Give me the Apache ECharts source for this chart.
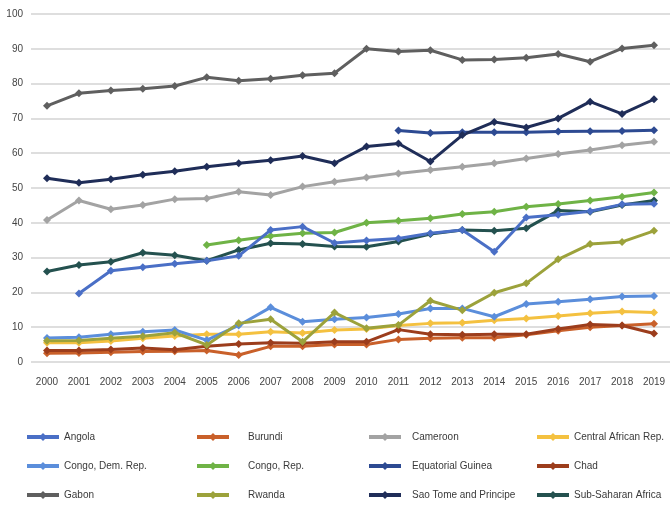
<!DOCTYPE html>
<html lang="en">
<head>
    <meta charset="UTF-8">
    <title>Chart</title>
    <script src="https://cdn.jsdelivr.net/npm/echarts@6/dist/echarts.min.js"></script>
    <style>
        html, body { margin: 0; padding: 0; background: #fff; }
    </style>
</head>
<body>
<div id="main" style="width: 670px;height: 506px"></div>
<script>
    let years = ['2000','2001','2002','2003','2004','2005','2006','2007','2008','2009',
        '2010','2011','2012','2013','2014','2015','2016','2017','2018','2019']
    let yTicks = [0, 10, 20, 30, 40, 50, 60, 70, 80, 90, 100]

    let angola = [null, 19.7, 26.2, 27.2, 28.2, 29.1, 30.5, 37.9, 38.9, 34.2, 34.9, 35.5, 37, 37.9, 31.7, 41.5, 42.3, 43.3, 45.3, 45.5]
    let burundi = [2.5, 2.6, 2.8, 3, 3.1, 3.3, 2, 4.5, 4.5, 5, 5, 6.5, 6.8, 7, 7, 7.8, 9, 10, 10.5, 11]
    let cameroon = [40.8, 46.4, 43.9, 45.1, 46.8, 47, 48.9, 48, 50.4, 51.8, 53, 54.2, 55.2, 56.1, 57.1, 58.5, 59.8, 60.9, 62.3, 63.3]
    let car = [5.5, 5.5, 6, 6.8, 7.5, 8, 8, 8.7, 8.3, 9.2, 9.5, 10.5, 11.1, 11.3, 12, 12.5, 13.2, 14, 14.5, 14.2]
    let congoDem = [6.9, 7.1, 8, 8.7, 9.2, 6.3, 10.5, 15.7, 11.6, 12.3, 12.8, 13.8, 15.4, 15.4, 13, 16.7, 17.3, 18, 18.8, 19]
    let congoRep = [null, null, null, null, null, 33.6, 35, 36.2, 37, 37.2, 40, 40.6, 41.3, 42.5, 43.2, 44.6, 45.4, 46.4, 47.5, 48.7]
    let eqGuinea = [null, null, null, null, null, null, null, null, null, null, null, 66.5, 65.8, 66, 66, 66, 66.2, 66.3, 66.4, 66.6]
    let chad = [3.3, 3.3, 3.6, 4, 3.5, 4.5, 5.2, 5.5, 5.4, 5.8, 5.8, 9.3, 8, 7.8, 8, 8, 9.5, 10.8, 10.5, 8.2]
    let gabon = [73.6, 77.2, 78, 78.5, 79.3, 81.8, 80.8, 81.4, 82.4, 83, 90, 89.2, 89.6, 86.8, 86.9, 87.4, 88.5, 86.3, 90.1, 91]
    let rwanda = [6.1, 6.2, 6.8, 7.4, 8.4, 4.9, 11.1, 12.3, 5.8, 14.2, 9.7, 10.6, 17.6, 14.9, 19.9, 22.6, 29.5, 33.9, 34.5, 37.7]
    let saoTome = [52.8, 51.5, 52.5, 53.8, 54.8, 56.1, 57.1, 58, 59.2, 57.1, 61.9, 62.8, 57.6, 65.2, 69, 67.4, 70, 74.8, 71.3, 75.5]
    let ssa = [26, 27.9, 28.8, 31.4, 30.7, 29.1, 32.2, 34.1, 33.9, 33.2, 33.1, 34.6, 36.8, 37.9, 37.7, 38.4, 43.5, 43.2, 45.1, 46.4]

    let font = '"Liberation Sans", Arial, sans-serif'

    function line(name, data, color) {
        return {
            name: name,
            type: 'line',
            data: data,
            symbol: 'diamond',
            symbolSize: 8,
            connectNulls: false,
            lineStyle: {width: 3, color: color},
            itemStyle: {color: color},
            emphasis: {disabled: true}
        }
    }

    // one column of the legend; pad pushes the text away from the icon
    function legendCol(left, pad, names) {
        return {
            orient: 'vertical',
            left: left,
            top: 432,
            padding: 0,
            itemWidth: 32,
            itemHeight: 10,
            itemGap: 19,
            data: names,
            lineStyle: {width: 4},
            textStyle: {fontFamily: font, fontSize: 10, color: '#3a3a3a', padding: [0, 0, 0, pad]}
        }
    }

    let mycharts = echarts.init(document.getElementById('main'))
    mycharts.setOption({
        animation: false,
        grid: {left: 31, right: 0, top: 14, bottom: 144},
        xAxis: {
            type: 'category',
            data: years,
            boundaryGap: true,
            axisLine: {show: false},
            axisTick: {show: false},
            axisLabel: {fontFamily: font, fontSize: 10, color: '#444', margin: 15, interval: 0}
        },
        yAxis: {
            type: 'value',
            min: yTicks[0],
            max: yTicks[yTicks.length - 1],
            interval: 10,
            axisLabel: {fontFamily: font, fontSize: 10, color: '#444', margin: 8},
            splitLine: {lineStyle: {color: '#dedede', width: 2}}
        },
        legend: [
            legendCol(25, 0, ['Angola', 'Congo, Dem. Rep.', 'Gabon']),
            legendCol(195, 14, ['Burundi', 'Congo, Rep.', 'Rwanda']),
            legendCol(367, 6, ['Cameroon', 'Equatorial Guinea', 'Sao Tome and Principe']),
            legendCol(535, 0, ['Central African Rep.', 'Chad', 'Sub-Saharan Africa'])
        ],
        series: [
            line('Gabon', gabon, '#5f5f5f'),
            line('Cameroon', cameroon, '#a3a3a3'),
            line('Equatorial Guinea', eqGuinea, '#2d4a92'),
            line('Sao Tome and Principe', saoTome, '#1f2d58'),
            line('Congo, Rep.', congoRep, '#6fb346'),
            line('Sub-Saharan Africa', ssa, '#24514f'),
            line('Angola', angola, '#4a6fc6'),
            line('Central African Rep.', car, '#f4c140'),
            line('Burundi', burundi, '#c9602a'),
            line('Chad', chad, '#9c3d1c'),
            line('Congo, Dem. Rep.', congoDem, '#5b8edb'),
            line('Rwanda', rwanda, '#9ca23b')
        ]
    })
</script>
</body>
</html>
